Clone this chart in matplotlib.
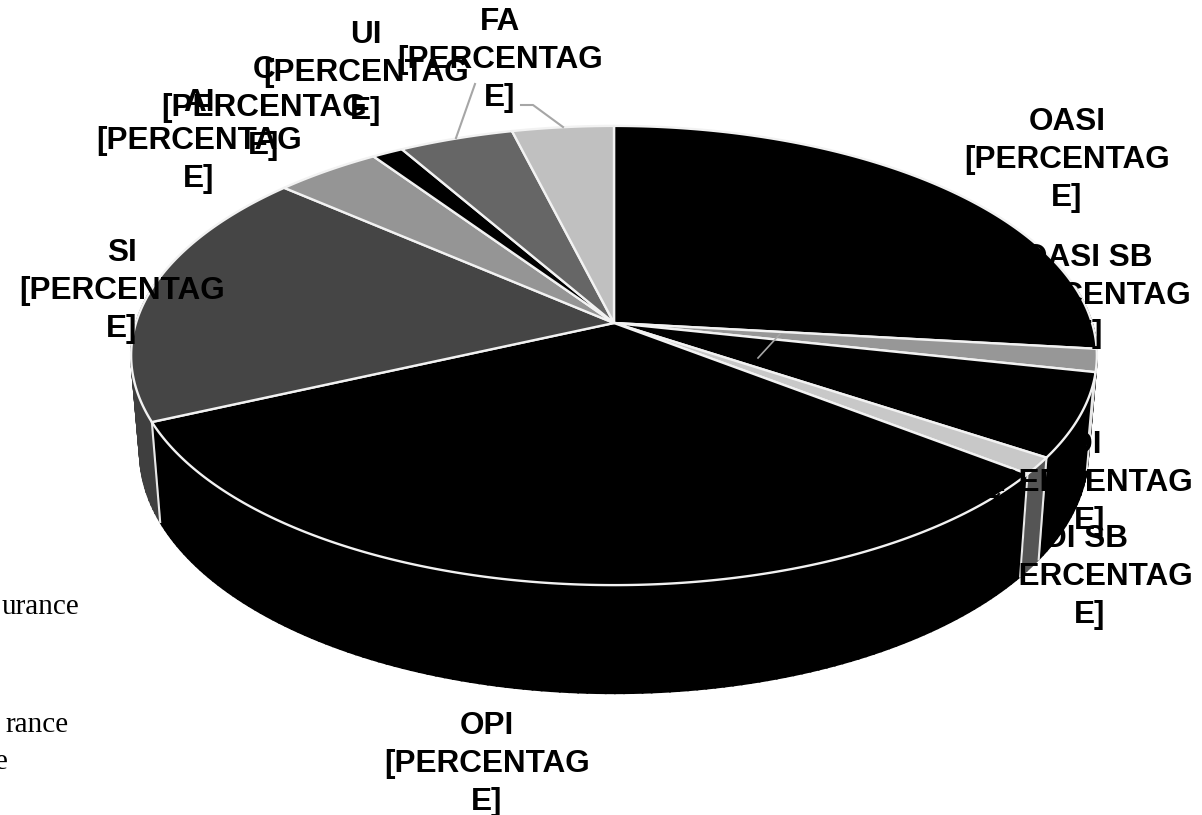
from __future__ import annotations

import matplotlib

matplotlib.use("Agg")
import matplotlib.pyplot as plt
import numpy as np

NAMES = ["OASI", "OASI SB", "DI ", "DI SB ", "OPI", "SI", "AI", "C", "UI", "FA"]
SHARES = [26.8, 1.6, 5.9, 1.2, 32.7, 18.2, 4.1, 1.2, 4.4, 3.9]
TOP_COLORS = ["#000000", "#979797", "#000000", "#c8c8c8", "#000000", "#454545", "#959595", "#000000", "#666666", "#c0c0c0"]
WALL_COLORS = ["#000000", "#000000", "#000000", "#555555", "#000000", "#3f3f3f", "#000000", "#000000", "#000000", "#000000"]
LABEL_CENTERS = [(1067, 160), (1088, 296), (1090, 483), (1090, 577), (487, 764), (122, 291), (199, 141), (264, 108), (366, 73), (500, 60)]
CLIPPED_TEXT = [("urance", 79, 607), ("rance", 69, 725), ("e", 8, 762)]

CX, CY = 614.0, 323.0
A, B, K = 225.0, 478.0, 0.1416


def top_point(angle: np.ndarray) -> tuple[np.ndarray, np.ndarray]:
    # angle runs clockwise from twelve o'clock, perspective squashes the back
    x, y = np.sin(angle), np.cos(angle)
    return CX + B * x / (1 + K * y), CY - A * y / (1 + K * y)


def bottom_point(angle: np.ndarray) -> tuple[np.ndarray, np.ndarray]:
    x, y = top_point(angle)
    return CX + 0.982 * (x - CX), y + 100 + 0.05 * (y - 422)


def main() -> None:
    fig = plt.figure(figsize=(12.02, 8.15), dpi=100)
    ax = fig.add_axes((0, 0, 1, 1))
    ax.set_xlim(0, 1202)
    ax.set_ylim(815, 0)
    ax.axis("off")

    edges = np.cumsum([0.0] + SHARES) / sum(SHARES) * 2 * np.pi
    front_lo, front_hi = np.radians(80), np.radians(280)

    # walls as thin strips so the silhouette follows the rim tangents
    for i, wall in enumerate(WALL_COLORS):
        lo, hi = max(edges[i], front_lo), min(edges[i + 1], front_hi)
        if hi <= lo:
            continue
        t = np.linspace(lo, hi, max(int((hi - lo) * 60), 2))
        tx, ty = top_point(t)
        bx, by = bottom_point(t)
        for j in range(len(t) - 1):
            ax.fill([tx[j], tx[j + 1], bx[j + 1], bx[j]], [ty[j], ty[j + 1], by[j + 1], by[j]], color=wall, lw=1.3, zorder=2)

    for edge in edges[1:-1]:
        if np.pi / 2 < edge < 3 * np.pi / 2:
            tx, ty = top_point(np.array([edge]))
            bx, by = bottom_point(np.array([edge]))
            ax.plot([tx[0], bx[0]], [ty[0], by[0]], color="#e8e8e8", lw=1.5, zorder=3)

    for i, color in enumerate(TOP_COLORS):
        t = np.linspace(edges[i], edges[i + 1], 200)
        x, y = top_point(t)
        ax.fill(np.r_[CX, x], np.r_[CY, y], facecolor=color, edgecolor="#f2f2f2", lw=1.7, joinstyle="round", zorder=4)

    # leader lines
    ax.plot([758, 780], [358, 334], color="#a6a6a6", lw=1.2, zorder=5)
    ax.plot([456, 475], [138, 84], color="#a6a6a6", lw=1.5, zorder=5)
    ax.plot([521, 533, 563], [105, 105, 127], color="#a6a6a6", lw=1.5, zorder=5)
    ax.plot([993, 999], [501, 494], color="#000000", lw=1.5, zorder=5)

    for name, (x, y) in zip(NAMES, LABEL_CENTERS):
        ax.text(x, y, f"{name}\n[PERCENTAG\nE]", ha="center", va="center", fontsize=22.7, fontweight="bold",
                family="Liberation Sans", color="#000000", linespacing=1.34, zorder=6)

    for text, x, y in CLIPPED_TEXT:
        ax.text(x, y, text, ha="right", va="center", fontsize=21, family="Liberation Serif", color="#000000", zorder=6)

    fig.savefig("out.png", dpi=100)
    plt.close(fig)


if __name__ == "__main__":
    main()
